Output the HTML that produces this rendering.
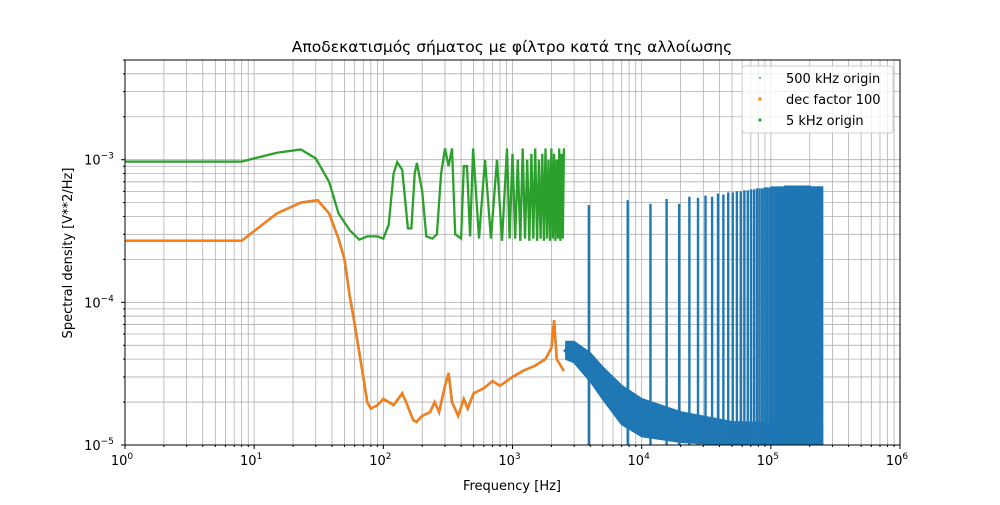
<!DOCTYPE html>
<html><head><meta charset="utf-8"><style>
body{margin:0;background:#fff}
svg text{font-family:"DejaVu Sans","Liberation Sans",sans-serif;}
</style></head><body>
<svg id="c" width="1000" height="500" xmlns="http://www.w3.org/2000/svg"></svg>
<script>
const orangeF=[1,8,15,23,31,38,45,50,55,60,70,75,80,90,100,110,120,140,150,170,180,200,230,250,270,300,320,340,380,420,450,500,600,700,800,1000,1200,1500,1800,2000,2100,2200,2500];
const orangeV=[2.7e-4,2.7e-4,4.2e-4,5.0e-4,5.2e-4,4.2e-4,2.8e-4,2.0e-4,1.1e-4,7e-5,3e-5,2.0e-5,1.8e-5,1.9e-5,2.1e-5,2.0e-5,1.9e-5,2.3e-5,2.0e-5,1.5e-5,1.45e-5,1.6e-5,1.7e-5,2.0e-5,1.7e-5,2.6e-5,3.2e-5,2.0e-5,1.6e-5,2.1e-5,1.8e-5,2.3e-5,2.5e-5,2.8e-5,2.6e-5,3.0e-5,3.3e-5,3.6e-5,4.0e-5,4.8e-5,7.5e-5,4.0e-5,3.3e-5];
const blueF=[2500,2800,3200,4000,5000,6000,8000,10000,15000,20000,250000];
const blueV=[4.5e-5,5e-5,4.6e-5,3.8e-5,3e-5,2.3e-5,1.8e-5,1.5e-5,1.3e-5,1.2e-5,1.1e-5];
const bandF=[2600,3000,4000,5000,7000,10000,20000,50000,250000];
const bandHi=[5.3e-5,5.3e-5,4.4e-5,3.5e-5,2.6e-5,2.1e-5,1.7e-5,1.45e-5,1.4e-5];
const bandLo=[4e-5,3.8e-5,2.8e-5,2.1e-5,1.4e-5,1.15e-5,1.05e-5,1.0e-5,1.0e-5];
const spikeF=[3900,7800,11700,15600,19500,23400,27300,31200,35100,39000,42900,46800,50700,54600,58500,62400,66300,70200,74100,78000,81900,85800,89700,93600,97500,101400,105300,109200,113100,117000,120900,124800,128700,132600,136500,140400,144300,148200,152100,156000,159900,163800,167700,171600,175500,179400,183300,187200,191100,195000,198900,202800,206700,210600,214500,218400,222300,226200,230100,234000,237900,241800,245700,249600];
const spikeV=[4.8e-4,5.2e-4,4.9e-4,5.3e-4,4.9e-4,5.5e-4,5.4e-4,5.6e-4,5.5e-4,5.8e-4,5.7e-4,5.9e-4,5.9e-4,6.0e-4,6.0e-4,6.1e-4,6.1e-4,6.2e-4,6.2e-4,6.3e-4,6.3e-4,6.3e-4,6.4e-4,6.4e-4,6.4e-4,6.5e-4,6.5e-4,6.5e-4,6.5e-4,6.5e-4,6.5e-4,6.5e-4,6.6e-4,6.6e-4,6.6e-4,6.6e-4,6.6e-4,6.6e-4,6.6e-4,6.6e-4,6.6e-4,6.6e-4,6.6e-4,6.6e-4,6.6e-4,6.6e-4,6.6e-4,6.6e-4,6.6e-4,6.6e-4,6.6e-4,6.5e-4,6.5e-4,6.5e-4,6.5e-4,6.5e-4,6.5e-4,6.5e-4,6.5e-4,6.5e-4,6.5e-4,6.5e-4,6.5e-4,6.5e-4];
const greenF=[1,8,15,23,30,38,45,55,65,75,90,100,110,120,128,140,155,165,175,182,200,215,240,260,280,300,320,340,360,400,420,444,470,495,550,612,680,759,830,906,950,1000,1050,1100,1150,1200,1250,1300,1350,1400,1450,1500,1550,1600,1650,1700,1750,1800,1850,1900,1950,2000,2050,2100,2150,2200,2250,2300,2350,2400,2450,2500];
const greenV=[9.7e-4,9.7e-4,1.12e-3,1.18e-3,1.02e-3,7e-4,4.2e-4,3.2e-4,2.75e-4,2.9e-4,2.9e-4,2.8e-4,3.5e-4,8e-4,9.6e-4,8.5e-4,3.3e-4,3.3e-4,8e-4,9.5e-4,6e-4,2.9e-4,2.8e-4,3e-4,8e-4,1.2e-3,9e-4,1.2e-3,3e-4,2.8e-4,9e-4,9e-4,2.9e-4,1.2e-3,2.8e-4,1.0e-3,2.8e-4,1.0e-3,2.7e-4,1.2e-3,2.8e-4,1.1e-3,2.8e-4,1.0e-3,2.7e-4,1.2e-3,2.8e-4,1.0e-3,2.7e-4,1.1e-3,2.8e-4,1.2e-3,2.7e-4,1.0e-3,2.8e-4,1.1e-3,2.7e-4,1.2e-3,2.8e-4,1.0e-3,2.7e-4,1.2e-3,2.8e-4,1.1e-3,2.7e-4,1.0e-3,2.8e-4,1.2e-3,2.7e-4,1.1e-3,2.8e-4,1.2e-3];
const xTicks=["0","1","2","3","4","5","6"];
const yTicks=["−5","−4","−3"];

const L=125,R=900,T=60,B=445;
const X=f=>L+(Math.log10(f)-0)/6*(R-L);
const yMin=-5,yMax=Math.log10(5e-3);
const Y=v=>B-(Math.log10(v)-yMin)/(yMax-yMin)*(B-T);
const svg=document.getElementById('c');
const NS="http://www.w3.org/2000/svg";
function mk(t,a,p){const e=document.createElementNS(NS,t);for(const k in a)e.setAttribute(k,a[k]);(p||svg).appendChild(e);return e;}
const grid=mk('g',{});


for(let d=0;d<6;d++)for(let m=1;m<10;m++){const x=X(Math.pow(10,d)*m);mk('line',{x1:x,x2:x,y1:T,y2:B,stroke:'#b0b0b0','stroke-width':0.8},grid);}
for(let d=-5;d<-2;d++)for(let m=1;m<10;m++){const v=Math.pow(10,d)*m;if(v>5e-3)break;const y=Y(v);mk('line',{x1:L,x2:R,y1:y,y2:y,stroke:'#b0b0b0','stroke-width':0.8},grid);}
function pts(F,V){return F.map((f,i)=>X(f).toFixed(1)+','+Y(V[i]).toFixed(1)).join(' ');}
const clip=mk('clipPath',{id:'cp'});mk('rect',{x:L,y:T,width:R-L,height:B-T},clip);
const plot=mk('g',{'clip-path':'url(#cp)'});
const blue=mk('g',{},plot);


mk('polyline',{points:pts(orangeF,orangeV),fill:'none',stroke:'#1f77b4','stroke-width':2.5},blue);
mk('polyline',{points:pts(blueF,blueV),fill:'none',stroke:'#1f77b4','stroke-width':2.5},blue);
mk('polygon',{points:pts(bandF,bandHi)+' '+pts(bandF.slice().reverse(),bandLo.slice().reverse()),fill:'#1f77b4',stroke:'#1f77b4','stroke-width':2},blue);
spikeF.forEach((f,i)=>{const s=mk('line',{x1:X(f),x2:X(f),y1:Y(1e-5),y2:Y(spikeV[i]),stroke:'#1f77b4','stroke-width':2.4},blue);

});
const or=mk('polyline',{points:pts(orangeF,orangeV),fill:'none',stroke:'#ff7f0e','stroke-width':2.3},plot);


const gr=mk('polyline',{points:pts(greenF,greenV),fill:'none',stroke:'#2ca02c','stroke-width':2.3},plot);


mk('rect',{x:L,y:T,width:R-L,height:B-T,fill:'none',stroke:'#000','stroke-width':1});
xTicks.forEach((t,i)=>{const x=X(Math.pow(10,+t));mk('line',{x1:x,x2:x,y1:B,y2:B+4,stroke:'#000'});
for(let m=2;m<10&&i<6;m++){const xm=X(Math.pow(10,+t)*m);mk('line',{x1:xm,x2:xm,y1:B,y2:B+2,stroke:'#000'});}
const tx=mk('text',{x:x-3,y:B+20,'font-size':13,'text-anchor':'middle'});tx.textContent='10';


const sp=mk('tspan',{dy:-6,'font-size':9},tx);sp.textContent=t;});
yTicks.forEach(t=>{const y=Y(Math.pow(10,-parseInt(t.slice(1))));mk('line',{x1:L-4,x2:L,y1:y,y2:y,stroke:'#000'});
const tx=mk('text',{x:L-26,y:y+5,'font-size':13,'text-anchor':'middle'});tx.textContent='10';


const sp=mk('tspan',{dy:-6,'font-size':9},tx);sp.textContent=t;});
for(let d=-5;d<-2;d++)for(let m=2;m<10;m++){const v=Math.pow(10,d)*m;if(v>5e-3)break;const y=Y(v);mk('line',{x1:L-2,x2:L,y1:y,y2:y,stroke:'#000'});}
function txt(s,a,n){const e=mk('text',a);e.textContent=s;return e;}
txt('Αποδεκατισμός σήματος με φίλτρο κατά της αλλοίωσης',{x:512,y:52,'font-size':15.5,'text-anchor':'middle'},'chart-title');
txt('Frequency [Hz]',{x:512,y:490,'font-size':13,'text-anchor':'middle'},'x-axis-title');
txt('Spectral density [V**2/Hz]',{x:0,y:0,'font-size':13,'text-anchor':'middle',transform:'translate(72,253) rotate(-90)'},'y-axis-title');
const lg=mk('g',{});


mk('rect',{x:742,y:66,width:151,height:67,rx:3,fill:'#fff','fill-opacity':0.8,stroke:'#ccc'},lg);
[['500 kHz origin','#1f77b4',1.5],['dec factor 100','#ff7f0e',3],['5 kHz origin','#2ca02c',3]].forEach((e,i)=>{
const y=78+i*21;mk('rect',{x:760-e[2]/2,y:y-e[2]/2,width:e[2],height:e[2],fill:e[1]},lg);
const t=mk('text',{x:786,y:y+5,'font-size':13},lg);t.textContent=e[0];

});
</script>
</body></html>
